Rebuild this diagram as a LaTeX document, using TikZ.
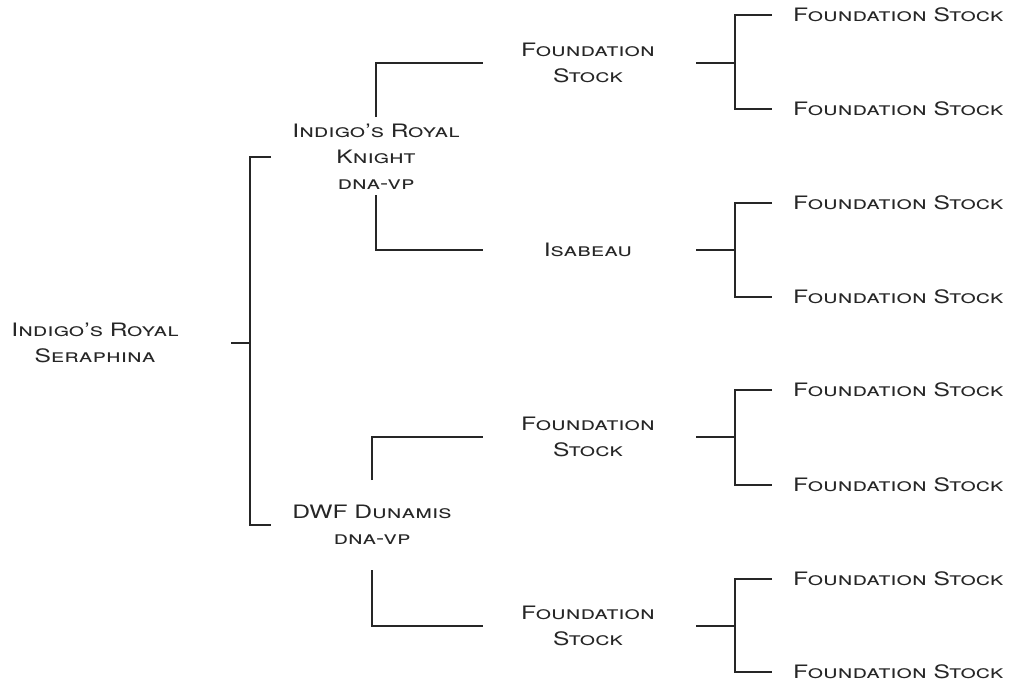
\documentclass[tikz,border=0pt]{standalone}
\usepackage{fontspec}
\setmainfont{TeX Gyre Heros}[Letters=SmallCaps, FakeStretch=1.33]
\begin{document}
\begin{tikzpicture}[x=1pt,y=-1pt,
  lbl/.style={align=center, inner sep=0pt, font=\fontsize{18.5}{26}\selectfont, text=black!85},
  leaf/.style={anchor=west, inner sep=0pt, font=\fontsize{18.5}{26}\selectfont, text=black!85},
  conn/.style={line width=1.2pt, draw=black!85}]
\useasboundingbox (0,0) rectangle (1010,681);
% generation 0
\node[lbl] (root) at (95,343) {Indigo's Royal\\Seraphina};
% generation 1
\node[lbl] (knight) at (376,157) {Indigo's Royal\\Knight\\dna-vp};
\node[lbl] (dunamis) at (372,525) {DWF Dunamis\\dna-vp};
% generation 2
\node[lbl] (fs1) at (588,63) {Foundation\\Stock};
\node[lbl] (isa) at (588,250) {Isabeau};
\node[lbl] (fs2) at (588,437) {Foundation\\Stock};
\node[lbl] (fs3) at (588,626) {Foundation\\Stock};
% generation 3
\foreach \i/\y in {1/15,2/109,3/203,4/297,5/390,6/485,7/579,8/672}
  \node[leaf] (l\i) at (793,\y) {Foundation Stock};
% junction coordinates
\coordinate (j0) at (250,343);
\coordinate (j0a) at (250,157);
\coordinate (j0b) at (250,525);
\coordinate (k1) at (376,63);
\coordinate (k2) at (376,250);
\coordinate (d1) at (372,437);
\coordinate (d2) at (372,626);
% connectors
\draw[conn] (231,343) -- (j0);
\draw[conn] (271,157) -- (j0a) -- (j0b) -- (271,525);
\draw[conn] (376,117) -- (k1) -- (483,63);
\draw[conn] (376,195) -- (k2) -- (483,250);
\draw[conn] (372,480) -- (d1) -- (483,437);
\draw[conn] (372,570) -- (d2) -- (483,626);
\foreach \y/\a/\b in {63/15/109, 250/203/297, 437/390/485, 626/579/672}{
  \draw[conn] (696,\y) -- (735,\y);
  \draw[conn] (772,\a) -- (735,\a) -- (735,\b) -- (772,\b);
}
\end{tikzpicture}
\end{document}
